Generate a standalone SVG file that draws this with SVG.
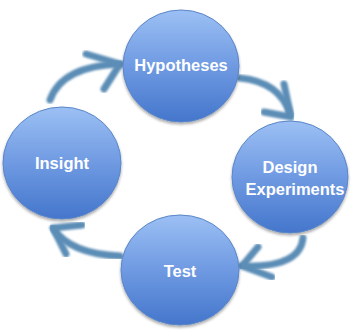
<svg xmlns="http://www.w3.org/2000/svg" width="362" height="334" viewBox="0 0 362 334">
<defs>
<linearGradient id="g" x1="0" y1="0" x2="0" y2="1">
<stop offset="0" stop-color="#9cc0f4"/>
<stop offset="0.5" stop-color="#6f9ae2"/>
<stop offset="1" stop-color="#4476cc"/>
</linearGradient>
<filter id="sh" x="-20%" y="-20%" width="140%" height="140%">
<feGaussianBlur in="SourceAlpha" stdDeviation="1.5"/>
<feOffset dx="0" dy="1.5" result="b"/>
<feComponentTransfer><feFuncA type="linear" slope="0.35"/></feComponentTransfer>
<feMerge><feMergeNode/><feMergeNode in="SourceGraphic"/></feMerge>
</filter>
<filter id="bl"><feGaussianBlur stdDeviation="0.8"/></filter>
</defs>
<style>
.n{fill:url(#g);stroke:#5a86c8;stroke-width:1;filter:url(#sh)}
.t{font-family:"Liberation Sans",Arial,sans-serif;font-weight:bold;font-size:16.5px;fill:#ffffff;text-anchor:middle}
.a{fill:none;stroke:#5b8db6;stroke-width:7;stroke-linecap:round;stroke-linejoin:round;filter:url(#bl)}
</style>
<g id="connectors">
<path class="a" d="M50,100 Q62,66 120,64"/>
<path class="a" d="M86,54 L120,64 L104,89"/>
<path class="a" d="M240,78 Q280,82 290,114"/>
<path class="a" d="M264,112 L291,117 L284,84"/>
<path class="a" d="M303,238 Q300,268 242,266"/>
<path class="a" d="M258,247 L242,266 L272,277"/>
<path class="a" d="M120,256 Q70,254 53,228"/>
<path class="a" d="M82,225 L53,228 L66,254"/>
</g>
<g id="hypotheses">
<ellipse class="n" cx="181" cy="66" rx="58" ry="56"/>
<text class="t" x="181" y="71">Hypotheses</text>
</g>
<g id="insight">
<ellipse class="n" cx="62" cy="163" rx="59" ry="56"/>
<text class="t" x="62" y="169">Insight</text>
</g>
<g id="design">
<ellipse class="n" cx="290" cy="177" rx="58" ry="56"/>
<text class="t" x="290" y="173">Design</text>
<text class="t" x="295" y="195">Experiments</text>
</g>
<g id="test">
<ellipse class="n" cx="180" cy="270" rx="59" ry="55"/>
<text class="t" x="180" y="277">Test</text>
</g>
</svg>
